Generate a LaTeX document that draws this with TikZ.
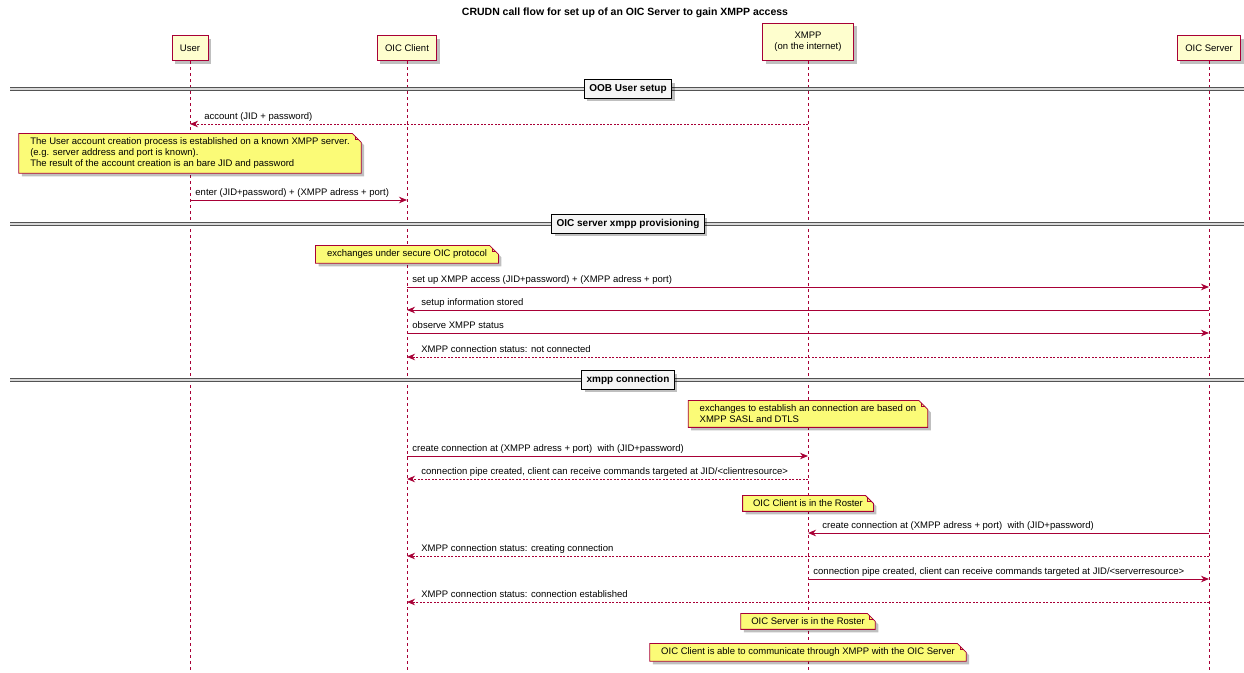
\documentclass[tikz,border=0pt]{standalone}
\usepackage{fontspec}
\setmainfont{Liberation Sans}
\usepackage{tikz}
\usetikzlibrary{arrows.meta,shapes.misc,shadows}
\definecolor{plum}{HTML}{A80036}
\definecolor{partfill}{HTML}{FEFECE}
\definecolor{notefill}{HTML}{FBFB77}

\begin{document}
\begin{tikzpicture}[x=1pt,y=-1pt,>={Stealth[length=8pt,width=6.5pt,inset=2.5pt]},
	every node/.style={font=\fontsize{9.5}{11}\selectfont},
	part/.style={rectangle,draw=plum,fill=partfill,line width=0.9pt,inner xsep=8pt,inner ysep=9pt,align=center,anchor=south,drop shadow={shadow xshift=3pt,shadow yshift=-3pt,fill=black,opacity=.25}},
	life/.style={draw=plum,line width=0.6pt,dash pattern=on 3pt off 3pt},
	msg/.style={->,draw=plum,line width=0.9pt},
	reply/.style={->,draw=plum,line width=0.8pt,dash pattern=on 2pt off 1.5pt},
	txt/.style={anchor=base west,xshift=5pt,yshift=4.5pt,inner sep=0pt},
	backtxt/.style={anchor=base west,xshift=14pt,yshift=4.5pt,inner sep=0pt},
	note/.style={chamfered rectangle,chamfered rectangle corners=north east,chamfered rectangle xsep=5pt,chamfered rectangle ysep=4pt,draw=plum,fill=notefill,line width=0.8pt,anchor=north,align=left,inner xsep=6.5pt,inner ysep=0.5pt,
		drop shadow={shadow xshift=3pt,shadow yshift=-3pt,fill=black,opacity=.25},
		path picture={\draw[plum,line width=0.8pt] ([xshift=-6pt]path picture bounding box.north east) |- ([yshift=-6pt]path picture bounding box.north east);}},
	sepline/.style={draw=gray!65!black,double=gray!30,double distance=1.6pt,line width=1.2pt},
	sepbox/.style={draw=black,fill=gray!8,line width=1pt,font=\fontsize{10}{12}\selectfont\bfseries,inner xsep=5pt,inner ysep=4.5pt,drop shadow={shadow xshift=3pt,shadow yshift=-3pt,fill=black,opacity=.25}},
	]
	\useasboundingbox (0,0) rectangle (1244,672);

	\node[font=\fontsize{10.5}{12}\selectfont\bfseries] (title) at (625,13) {CRUDN call flow for set up of an OIC Server to gain XMPP access};

	% participants and lifelines
	\node[part] (user) at (190,61) {User};
	\node[part] (client) at (407,61) {OIC Client};
	\node[part,minimum width=91pt] (xmpp) at (808,61) {XMPP\\(on the internet)};
	\node[part] (server) at (1209,61) {OIC Server};
	\coordinate (userend) at (190,672);
	\coordinate (clientend) at (407,672);
	\coordinate (xmppend) at (808,672);
	\coordinate (serverend) at (1209,672);
	\draw[life] (user) -- (userend);
	\draw[life] (client) -- (clientend);
	\draw[life] (xmpp) -- (xmppend);
	\draw[life] (server) -- (serverend);

	% points on the lifelines, one row for each message
	\foreach \r/\y in {1/124,2/200,3/287,4/310,5/333,6/357,7/456,8/479,9/533,10/556,11/579,12/602}{
		\coordinate (u\r) at (190,\y);
		\coordinate (c\r) at (407,\y);
		\coordinate (x\r) at (808,\y);
		\coordinate (s\r) at (1209,\y);
	}
	\foreach \d/\y in {1/89,2/224,3/380}{
		\coordinate (w\d) at (10,\y);
		\coordinate (e\d) at (1244,\y);
	}

	% OOB User setup
	\draw[sepline] (w1) -- (e1);
	\node[sepbox] (oob) at (628,89) {OOB User setup};
	\draw[reply] (x1) -- (u1) node[backtxt] {account (JID + password)};
	\node[note] (n1) at (190,133) {The User account creation process is established on a known XMPP server.\\(e.g. server address and port is known).\\The result of the account creation is an bare JID and password};
	\draw[msg] (u2) node[txt] {enter (JID+password) + (XMPP adress + port)} -- (c2);

	% OIC server xmpp provisioning
	\draw[sepline] (w2) -- (e2);
	\node[sepbox] (prov) at (628,224) {OIC server xmpp provisioning};
	\node[note] (n2) at (407,245) {exchanges under secure OIC protocol};
	\draw[msg] (c3) node[txt] {set up XMPP access (JID+password) + (XMPP adress + port)} -- (s3);
	\draw[msg] (s4) -- (c4) node[backtxt] {setup information stored};
	\draw[msg] (c5) node[txt] {observe XMPP status} -- (s5);
	\draw[reply] (s6) -- (c6) node[backtxt] {XMPP connection status: not connected};

	% xmpp connection
	\draw[sepline] (w3) -- (e3);
	\node[sepbox] (conn) at (628,380) {xmpp connection};
	\node[note] (n3) at (808,400) {exchanges to establish an connection are based on\\XMPP SASL and DTLS};
	\draw[msg] (c7) node[txt] {create connection at (XMPP adress + port)~ with (JID+password)} -- (x7);
	\draw[reply] (x8) -- (c8) node[backtxt] {connection pipe created, client can receive commands targeted at JID/\textless clientresource\textgreater};
	\node[note] (n4) at (808,495) {OIC Client is in the Roster};
	\draw[msg] (s9) -- (x9) node[backtxt] {create connection at (XMPP adress + port)~ with (JID+password)};
	\draw[reply] (s10) -- (c10) node[backtxt] {XMPP connection status: creating connection};
	\draw[msg] (x11) node[txt] {connection pipe created, client can receive commands targeted at JID/\textless serverresource\textgreater} -- (s11);
	\draw[reply] (s12) -- (c12) node[backtxt] {XMPP connection status: connection established};
	\node[note] (n5) at (808,613) {OIC Server is in the Roster};
	\node[note] (n6) at (808,643) {OIC Client is able to communicate through XMPP with the OIC Server};

\end{tikzpicture}
\end{document}
